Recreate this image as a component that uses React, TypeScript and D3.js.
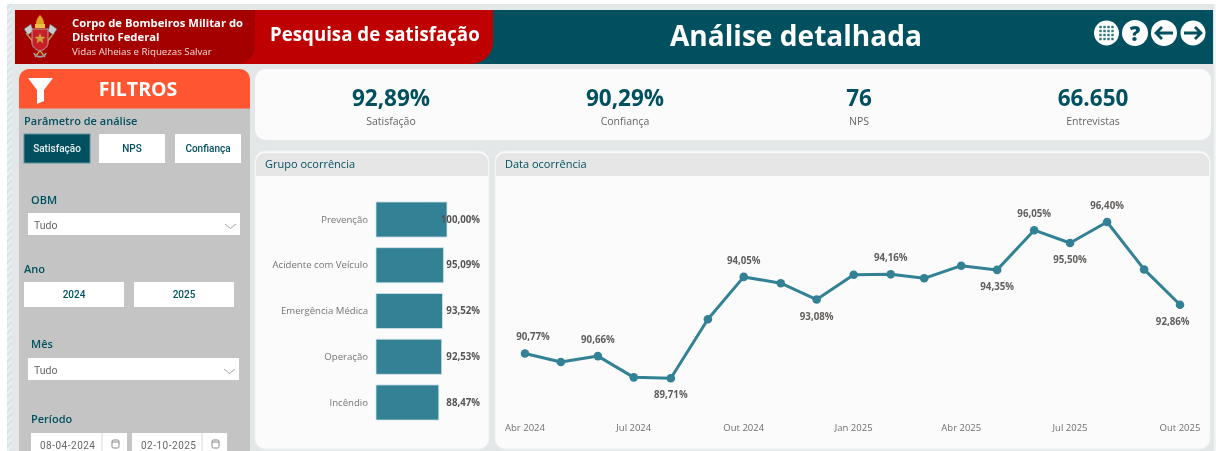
import React from "react";
import * as d3 from "d3";

const WIDTH = 1216;
const HEIGHT = 451;

const barCategories = ["Prevenção", "Acidente com Veículo", "Emergência Médica", "Operação", "Incêndio"];
const barValues = [100.0, 95.09, 93.52, 92.53, 88.47];

const monthKeys = ["2024-04","2024-05","2024-06","2024-07","2024-08","2024-09","2024-10","2024-11","2024-12","2025-01","2025-02","2025-03","2025-04","2025-05","2025-06","2025-07","2025-08","2025-09","2025-10"];
const monthValues = [90.77,90.41,90.66,89.75,89.71,92.24,94.05,93.78,93.08,94.14,94.16,93.99,94.53,94.35,96.05,95.5,96.4,94.37,92.86];
const labelsAbove = ["2024-04","2024-06","2024-10","2025-02","2025-06","2025-08"];
const labelsBelow = ["2024-08","2024-12","2025-05","2025-07","2025-10"];
const tickMonths = ["2024-04","2024-07","2024-10","2025-01","2025-04","2025-07","2025-10"];
const tickLabels = ["Abr 2024","Jul 2024","Out 2024","Jan 2025","Abr 2025","Jul 2025","Out 2025"];

const kpiValues = ["92,89%","90,29%","76","66.650"];
const kpiLabels = ["Satisfação","Confiança","NPS","Entrevistas"];

const TEAL = "#00505f";
const BAR = "#338195";
const SANS = "'Open Sans', 'Noto Sans', sans-serif";
const DIN = "Roboto, 'Open Sans', sans-serif";

const pct = (v: number) => v.toFixed(2).replace(".", ",") + "%";
const toDate = (k: string) => d3.utcParse("%Y-%m")(k) as Date;

function Chevron({ x, y }: { x: number; y: number }) {
  return <path d={`M${x} ${y}l5.5 4.5l5.5 -4.5`} fill="none" stroke="#9a9a9a" strokeWidth={0.9} />;
}

function Dropdown({ x, y, w, h, label }: { x: number; y: number; w: number; h: number; label: string }) {
  return (
    <g>
      <rect x={x} y={y} width={w} height={h} fill="#fff" />
      <text x={x + 6} y={y + 16} fontFamily={DIN} fontSize={10.5} fill="#666">{label}</text>
      <Chevron x={x + w - 15} y={y + 11} />
    </g>
  );
}

function Btn({ x, y, w, h, label, active }: { x: number; y: number; w: number; h: number; label: string; active?: boolean }) {
  return (
    <g>
      <rect x={x} y={y} width={w} height={h} fill={active ? TEAL : "#fff"} stroke={active ? "#5f8f9a" : "none"} strokeWidth={1} />
      <text x={x + w / 2} y={y + h / 2 + 3.5} textAnchor="middle" fontFamily={DIN} fontWeight={500} fontSize={10} fill={active ? "#e8eef0" : TEAL}>{label}</text>
    </g>
  );
}

function DateBox({ x, w, label }: { x: number; w: number; label: string }) {
  const y = 433;
  return (
    <g>
      <rect x={x} y={y} width={w} height={24} fill="#fff" />
      <line x1={x + w - 25} x2={x + w - 25} y1={y} y2={y + 24} stroke="#d8d8d8" />
      <text x={x + 9} y={449} fontFamily={DIN} fontSize={10} letterSpacing={0.5} fill="#666">{label}</text>
      <rect x={x + w - 15} y={y + 7} width={7} height={8} rx={1.5} fill="none" stroke="#888" />
      <line x1={x + w - 15} x2={x + w - 8} y1={y + 9} y2={y + 9} stroke="#888" />
    </g>
  );
}

function Card({ x, w, title }: { x: number; w: number; title: string }) {
  const y = 151, h = 298, r = 10;
  return (
    <g>
      <rect x={x} y={y} width={w} height={h} rx={r} fill="#fbfbfb" stroke="#eef1f2" />
      <path d={`M${x + 1} ${y + 25}V${y + r}a${r - 1} ${r - 1} 0 0 1 ${r - 1} ${-r + 2}H${x + w - r}a${r - 1} ${r - 1} 0 0 1 ${r - 1} ${r - 1}V${y + 25}Z`} fill="#e6e6e6" />
      <text x={x + 10} y={168} fontFamily={SANS} fontSize={11} fill={TEAL}>{title}</text>
    </g>
  );
}

function Emblem() {
  return (
    <g>
      <path d="M26 33L45 57M54 33L35 57" stroke="#c9a24a" strokeWidth={1.3} />
      <path d="M24 29l7 -5l2 7l-5 4zM57 29l-7 -5l-2 7l5 4z" fill="#c8cdd2" stroke="#555" strokeWidth={0.6} />
      <path d="M40 15c-3 3 -4 6 -4 9c0 2 1 3 4 3s4 -1 4 -3c0 -3 -1 -6 -4 -9z" fill="#e2a02a" />
      <rect x={35} y={24} width={10} height={4} fill="#f0c040" />
      <path d="M32 29h16v14c0 4 -4 7 -8 8c-4 -1 -8 -4 -8 -8z" fill="#c81e28" stroke="#b9a3a3" strokeWidth={1} />
      <path d="M40 33l1.5 3.800l4 .2l-3.100 2.500l1.100 3.900l-3.500 -2.300l-3.500 2.300l1.100 -3.900l-3.100 -2.500l4 -.2z" fill="#cfa23a" />
      <path d="M34 53c2 5 10 5 12 0" fill="none" stroke="#9aa0a5" strokeWidth={1.8} />
    </g>
  );
}

function Icons() {
  const y = 33;
  const gridX = d3.range(-6, 7, 4);
  return (
    <g>
      <circle cx={1106.5} cy={y} r={12.5} fill="#fff" />
      {gridX.map((a) => gridX.map((b) => (
        <rect key={`${a}${b}`} x={1106.5 + a - 1.2} y={y + b - 1.2} width={2.4} height={2.4} fill={TEAL} opacity={0.8} />
      )))}
      <circle cx={1135} cy={y} r={13} fill="#fff" />
      <text x={1135} y={y + 7.5} textAnchor="middle" fontFamily={SANS} fontWeight={800} fontSize={21} fill={TEAL}>?</text>
      <circle cx={1164} cy={y} r={13} fill="#fff" />
      <path d={`M1173 ${y}H1157M1162 ${y - 6}L1156 ${y}L1162 ${y + 6}`} fill="none" stroke={TEAL} strokeWidth={2.8} />
      <circle cx={1193} cy={y} r={12.5} fill="#fff" />
      <path d={`M1184 ${y}H1200M1195 ${y - 6}L1201 ${y}L1195 ${y + 6}`} fill="none" stroke={TEAL} strokeWidth={2.8} />
    </g>
  );
}

export default function App() {
  const barX = d3.scaleLinear().domain([0, 100]).range([376, 447]);
  const barY = d3.scaleBand().domain(barCategories).range([191, 431]).paddingInner(0.2333).paddingOuter(0.24);

  const dates = monthKeys.map(toDate);
  const lineX = d3.scaleUtc().domain([dates[0], dates[dates.length - 1]]).range([525, 1180]);
  const lineY = d3.scaleLinear().domain([89.71, 96.4]).range([378.3, 222]);
  const line = d3.line<string>()
    .x((k) => lineX(toDate(k)))
    .y((k) => lineY(monthValues[monthKeys.indexOf(k)]));
  const labelX = (k: string) => Math.min(1172.7, Math.max(533, lineX(toDate(k))));
  const heading = { fontFamily: SANS, fontWeight: 600, fontSize: 11, fill: TEAL };
  const dataLabel = { textAnchor: "middle" as const, fontFamily: SANS, fontWeight: 700, fontSize: 9.7, fill: "#605e5c" };

  return (
    <svg width={WIDTH} height={HEIGHT} viewBox={`0 0 ${WIDTH} ${HEIGHT}`}
      style={{ position: "fixed", left: 0, top: 0, display: "block", filter: "blur(0.35px)" }}>
      <defs>
        <pattern id="hatch" width={5} height={5} patternUnits="userSpaceOnUse" patternTransform="rotate(45)">
          <rect width={5} height={5} fill="#e6eef0" />
          <rect width={2} height={5} fill="#d6e3e6" />
        </pattern>
      </defs>
      <rect width={WIDTH} height={HEIGHT} fill="#fff" />
      <rect x={7} y={4} width={WIDTH - 7} height={HEIGHT} fill="#e3e7e8" />
      <rect x={1214} y={4} width={2} height={HEIGHT} fill="#f2f4f4" />
      <rect x={7} y={4} width={5} height={HEIGHT} fill="url(#hatch)" />

      {/* Header */}
      <rect x={15} y={10} width={1198} height={54} fill={TEAL} />
      <path d="M15 10H493V42a22 22 0 0 1 -22 22H15Z" fill="#bf0000" />
      <path d="M15 10H255V46a18 18 0 0 1 -18 18H15Z" fill="#a50000" />
      <Emblem />
      <text x={72} y={27} fontFamily={SANS} fontWeight={700} fontSize={11.25} fill="#fff">Corpo de Bombeiros Militar do</text>
      <text x={72} y={41} fontFamily={SANS} fontWeight={700} fontSize={11.25} fill="#fff">Distrito Federal</text>
      <text x={72} y={55} fontFamily={SANS} fontSize={9.7} fill="#f3dcdc">Vidas Alheias e Riquezas Salvar</text>
      <text x={270} y={41} fontFamily={SANS} fontWeight={700} fontSize={18.7} fill="#fff">Pesquisa de satisfação</text>
      <text x={796} y={46} textAnchor="middle" fontFamily={SANS} fontWeight={700} fontSize={28.1} fill="#fff">Análise detalhada</text>
      <Icons />

      {/* Filter panel */}
      <rect x={19} y={100} width={231} height={360} fill="#c4c4c4" />
      <path d="M19 108.500V79a10 10 0 0 1 10 -10H240a10 10 0 0 1 10 10V108.500Z" fill="#ff5530" />
      <path d="M28 78H53L44 90V101L37 104V90Z" fill="#fff" />
      <text x={138} y={96} textAnchor="middle" fontFamily={SANS} fontWeight={700} fontSize={19.5} fill="#fff">FILTROS</text>
      <text x={24} y={125} {...heading}>Parâmetro de análise</text>
      <Btn x={24} y={134} w={66} h={29} label="Satisfação" active />
      <Btn x={99} y={134} w={66} h={29} label="NPS" />
      <Btn x={175} y={134} w={66} h={29} label="Confiança" />
      <text x={31} y={204} {...heading}>OBM</text>
      <Dropdown x={28} y={213} w={212} h={22} label="Tudo" />
      <text x={24} y={273} {...heading}>Ano</text>
      <Btn x={24} y={282} w={100} h={25} label="2024" />
      <Btn x={134} y={282} w={100} h={25} label="2025" />
      <text x={31} y={348} {...heading}>Mês</text>
      <Dropdown x={28} y={358} w={211} h={22} label="Tudo" />
      <text x={31} y={423} {...heading}>Período</text>
      <DateBox x={31} w={96} label="08-04-2024" />
      <DateBox x={132} w={95} label="02-10-2025" />

      {/* KPI card */}
      <rect x={255} y={69} width={956} height={71} rx={11} fill="#fbfbfb" />
      {kpiValues.map((v, i) => (
        <g key={v}>
          <text x={391 + i * 234} y={106} textAnchor="middle" fontFamily={SANS} fontWeight={700} fontSize={22.5} fill={TEAL}>{v}</text>
          <text x={391 + i * 234} y={125} textAnchor="middle" fontFamily={SANS} fontSize={10.5} fill="#666">{kpiLabels[i]}</text>
        </g>
      ))}

      {/* Bars */}
      <Card x={255} w={234} title="Grupo ocorrência" />
      {barCategories.map((c, i) => {
        const y = barY(c) as number;
        const mid = y + barY.bandwidth() / 2;
        return (
          <g key={c}>
            <rect x={barX(0)} y={y} width={barX(barValues[i]) - barX(0)} height={barY.bandwidth()} fill={BAR} stroke="#d3e4e8" strokeWidth={0.8} />
            <text x={368} y={mid} dy="0.32em" textAnchor="end" fontFamily={SANS} fontSize={9.6} fill="#757575">{c}</text>
            <text x={480} y={mid} dy="0.32em" textAnchor="end" fontFamily={SANS} fontWeight={700} fontSize={9.7} fill="#555">{pct(barValues[i])}</text>
          </g>
        );
      })}

      {/* Line */}
      <Card x={495} w={715} title="Data ocorrência" />
      <path d={line(monthKeys) as string} fill="none" stroke={BAR} strokeWidth={3} strokeLinejoin="round" />
      {monthKeys.map((k, i) => (
        <circle key={k} cx={lineX(dates[i])} cy={lineY(monthValues[i])} r={4.3} fill={BAR} />
      ))}
      {labelsAbove.map((k) => (
        <text key={k} x={labelX(k)} y={lineY(monthValues[monthKeys.indexOf(k)]) - 16.6} dy="0.35em" {...dataLabel}>{pct(monthValues[monthKeys.indexOf(k)])}</text>
      ))}
      {labelsBelow.map((k) => (
        <text key={k} x={labelX(k)} y={lineY(monthValues[monthKeys.indexOf(k)]) + 16.6} dy="0.35em" {...dataLabel}>{pct(monthValues[monthKeys.indexOf(k)])}</text>
      ))}
      {tickMonths.map((k, i) => (
        <text key={k} x={lineX(toDate(k))} y={428} dy="0.35em" textAnchor="middle" fontFamily={SANS} fontSize={9.5} fill="#707070">{tickLabels[i]}</text>
      ))}
    </svg>
  );
}
